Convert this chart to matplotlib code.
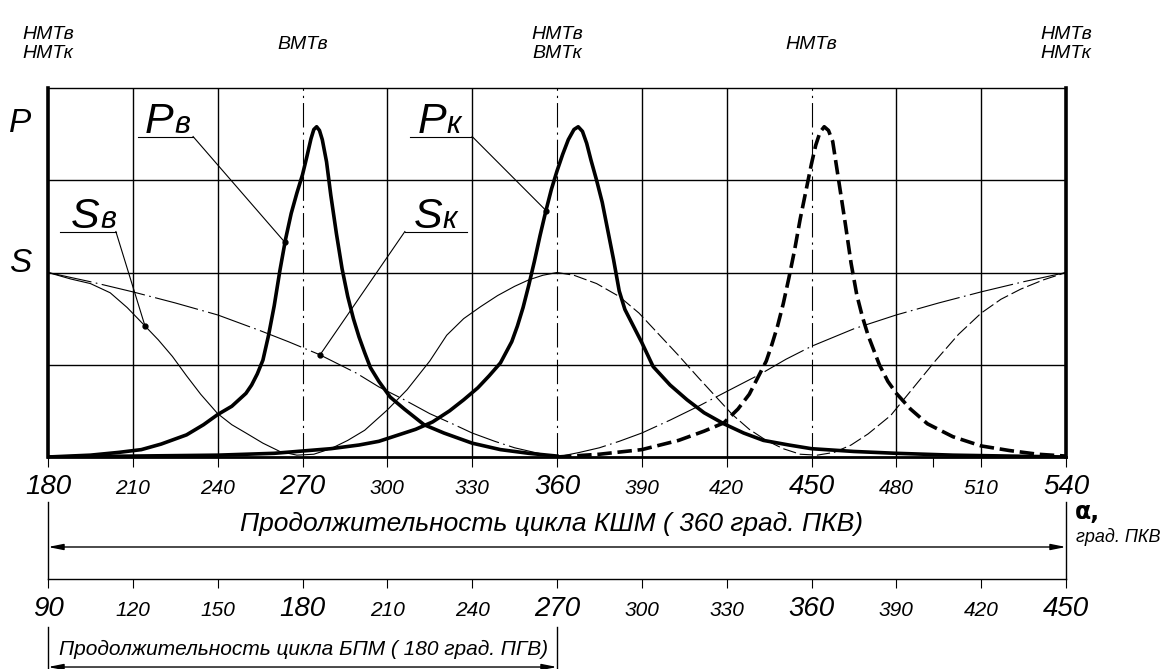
import numpy as np
import matplotlib
matplotlib.use("Agg")
import matplotlib.pyplot as plt

plt.rcParams["font.family"] = ["Liberation Sans", "DejaVu Sans"]
plt.rcParams["font.style"] = "italic"

# crank angle, deg
tick_alpha = [180, 210, 240, 270, 300, 330, 360, 390, 420, 450, 480, 510, 540]
grid_alpha = [210, 240, 300, 330, 390, 420, 480, 510]
dead_centres = [270, 360, 450]
top_alpha = [180, 270, 360, 450, 540]
top_labels = ["НМТв\nНМТк", "ВМТв", "НМТв\nВМТк", "НМТв", "НМТв\nНМТк"]
gear_ticks = [90, 120, 150, 180, 210, 240, 270, 300, 330, 360, 390, 420, 450]

# S_в, first stroke pair (solid)
alpha_sv1 = [180, 188, 195, 202, 208, 214, 219, 224, 229, 234, 240, 245, 250, 256, 262,
             268, 274, 280, 286, 292, 300, 307, 315, 321, 327, 333, 339, 345, 350, 355, 360]
sv1 = [2.00, 1.93, 1.88, 1.78, 1.62, 1.43, 1.27, 1.09, 0.88, 0.68, 0.47, 0.35, 0.26, 0.15, 0.06,
       0.02, 0.03, 0.09, 0.18, 0.29, 0.51, 0.73, 1.04, 1.32, 1.50, 1.63, 1.75, 1.85, 1.92, 1.97, 2.00]

# S_в, second stroke pair (dashed)
alpha_sv2 = [360, 366, 374, 382, 389, 396, 403, 410, 416, 422, 428, 434, 440, 446, 452,
             458, 464, 470, 478, 486, 494, 502, 510, 517, 524, 532, 540]
sv2 = [2.00, 1.97, 1.88, 1.74, 1.56, 1.33, 1.10, 0.86, 0.66, 0.46, 0.30, 0.18, 0.09, 0.03, 0.02,
       0.05, 0.13, 0.25, 0.45, 0.75, 1.05, 1.33, 1.56, 1.71, 1.82, 1.92, 2.00]

# S_к (dash-dot)
alpha_sk = [180, 195, 210, 225, 240, 255, 265, 276, 289, 297, 306, 315, 323, 330, 338, 345, 352, 360,
            368, 375, 382, 390, 400, 410, 420, 432, 441, 450, 465, 480, 495, 510, 525, 540]
sk = [2.00, 1.90, 1.79, 1.67, 1.54, 1.37, 1.25, 1.11, 0.91, 0.76, 0.62, 0.47, 0.36, 0.26, 0.17, 0.10, 0.05, 0.00,
      0.05, 0.10, 0.17, 0.26, 0.40, 0.55, 0.71, 0.90, 1.06, 1.20, 1.39, 1.54, 1.67, 1.79, 1.90, 2.00]

# P_в, first cycle (solid)
alpha_pv1 = [180, 195, 205, 213, 220, 229, 235, 240, 245, 250, 252, 254, 256, 258, 260, 262, 264, 266,
             268, 270, 271.5, 273, 274, 275, 276, 277, 278.5, 280, 282, 284, 286, 288, 290, 292, 294,
             297, 301, 306, 313, 320, 330, 340, 350, 360]
pv1 = [0.00, 0.02, 0.05, 0.08, 0.14, 0.24, 0.35, 0.46, 0.55, 0.69, 0.78, 0.90, 1.05, 1.32, 1.64, 2.02, 2.36, 2.64,
       2.86, 3.06, 3.25, 3.45, 3.55, 3.58, 3.54, 3.44, 3.20, 2.84, 2.42, 2.04, 1.74, 1.50, 1.30, 1.13, 0.97,
       0.82, 0.65, 0.52, 0.35, 0.26, 0.15, 0.08, 0.04, 0.01]

# P_в, second cycle (dashed)
alpha_pv2 = [360, 375, 390, 403, 412, 419, 424, 428, 430, 432, 434, 436, 438, 440, 442, 444, 446, 448,
             450, 451.5, 453, 454.5, 456, 457.5, 459, 460.5, 462, 464, 466, 468, 470, 472, 474, 477, 480,
             485, 491, 500, 510, 520, 530, 540]
pv2 = [0.00, 0.03, 0.08, 0.18, 0.28, 0.37, 0.52, 0.68, 0.80, 0.92, 1.04, 1.22, 1.42, 1.66, 1.94, 2.24, 2.58, 2.88,
       3.18, 3.38, 3.52, 3.58, 3.54, 3.42, 3.12, 2.82, 2.52, 2.10, 1.76, 1.52, 1.32, 1.16, 1.00, 0.82, 0.69,
       0.52, 0.36, 0.22, 0.12, 0.07, 0.03, 0.01]

# P_к (solid)
alpha_pk = [180, 210, 240, 260, 280, 290, 297, 304, 310, 316, 322, 327, 332, 336, 340, 344, 346, 348, 350,
            352, 354, 356, 358, 360, 362, 364, 366, 367.5, 369, 370.5, 372, 374, 376, 378, 380, 382, 384,
            386, 388, 390, 394, 400, 406, 412, 419, 426, 433, 442, 450, 465, 480, 500, 520, 540]
pk = [0.00, 0.01, 0.02, 0.04, 0.09, 0.13, 0.17, 0.24, 0.30, 0.38, 0.50, 0.62, 0.75, 0.88, 1.02, 1.25, 1.42, 1.62,
      1.86, 2.12, 2.40, 2.66, 2.90, 3.10, 3.28, 3.44, 3.55, 3.58, 3.53, 3.40, 3.22, 3.00, 2.76, 2.45, 2.14, 1.80,
      1.60, 1.48, 1.36, 1.24, 0.98, 0.78, 0.62, 0.48, 0.36, 0.26, 0.18, 0.13, 0.09, 0.06, 0.04, 0.02, 0.01, 0.00]

W, H = 1166, 669
fig = plt.figure(figsize=(W / 100, H / 100), dpi=100)
ax = fig.add_axes([48 / W, 1 - 457 / H, 1018 / W, 369 / H])
ax.set_xlim(180, 540)
ax.set_ylim(0, 4)

for a in grid_alpha:
    ax.axvline(a, color="k", lw=1.0, zorder=1)
for a in dead_centres:
    ax.axvline(a, color="k", lw=0.8, ls=(0, (22, 4.5, 2, 4.5)), zorder=1)
for v in (1, 2, 3):
    ax.axhline(v, color="k", lw=1.0, zorder=1)

ax.spines["top"].set_linewidth(1.0)
ax.spines["left"].set_linewidth(2.6)
ax.spines["right"].set_linewidth(2.6)
ax.spines["bottom"].set_linewidth(2.0)
ax.set_xticks(tick_alpha + [493])
ax.tick_params(axis="x", direction="out", length=7.2, width=0.8, labelbottom=False)
ax.set_yticks([])

thin = 0.8
thick = 2.6
ax.plot(alpha_sv1, sv1, color="k", lw=thin, zorder=3)
ax.plot(alpha_sv2, sv2, color="k", lw=thin, ls=(0, (12, 3.5)), zorder=3)
ax.plot(alpha_sk, sk, color="k", lw=thin, ls=(0, (40, 4, 1.5, 4)), zorder=3)
ax.plot(alpha_pv1, pv1, color="k", lw=thick, zorder=4, solid_joinstyle="round")
ax.plot(alpha_pk, pk, color="k", lw=thick, zorder=4, solid_joinstyle="round")
ax.plot(alpha_pv2, pv2, color="k", lw=thick, ls=(0, (4, 1.6)), zorder=4)

# curve captions with leader lines
captions = [
    # letter, index, letter x, index x, baseline, underline x0, x1, leader start, curve, target angle
    ("Р", "в", 214.3, 224.6, 3.51, 211.8, 231.3, 231.3, (alpha_pv1, pv1), 263.8),
    ("Р", "к", 310.8, 320.8, 3.51, 308.0, 330.0, 330.0, (alpha_pk, pk), 356.1),
    ("S", "в", 188.0, 198.4, 2.48, 184.2, 204.0, 204.0, (alpha_sv1, sv1), 214.3),
    ("S", "к", 309.3, 319.4, 2.48, 306.2, 328.2, 306.2, (alpha_sk, sk), 276.2),
]
for big, idx, xb, xi, yb, u0, u1, xf, (cx, cy), xt in captions:
    ax.text(xb, yb, big, fontsize=31, ha="left", va="baseline", zorder=5)
    ax.text(xi, yb, idx, fontsize=22, ha="left", va="baseline", zorder=5)
    yu = yb - 0.036
    yt = np.interp(xt, cx, cy)
    ax.plot([u0, u1], [yu, yu], color="k", lw=thin, zorder=5)
    ax.plot([xf, xt], [yu, yt], color="k", lw=thin, zorder=5)
    ax.plot([xt], [yt], "o", color="k", ms=3.5, zorder=6)

ax.text(-0.0275, 3.52, "P", transform=ax.get_yaxis_transform(), fontsize=24,
        ha="center", va="baseline")
ax.text(-0.0275, 2.0, "S", transform=ax.get_yaxis_transform(), fontsize=24,
        ha="center", va="baseline")

for a, lbl in zip(top_alpha, top_labels):
    ax.text(a, 1.119, lbl, transform=ax.get_xaxis_transform(), fontsize=14,
            ha="center", va="center", linespacing=1.2)

for a in tick_alpha:
    size = 20 if a % 90 == 0 else 15
    ax.text(a, -0.1003, str(a), transform=ax.get_xaxis_transform(), fontsize=size,
            ha="center", va="baseline")

# lower scale, gear shaft degrees
axb = fig.add_axes([48 / W, 1 - 579 / H, 1018 / W, 77 / H])
axb.set_xlim(90, 450)
axb.set_ylim(0, 1)
axb.patch.set_alpha(0)
axb.spines["top"].set_visible(False)
for s in ("left", "right", "bottom"):
    axb.spines[s].set_linewidth(1.0)
axb.set_xticks(gear_ticks)
axb.tick_params(axis="x", direction="out", length=6.5, width=0.8, labelbottom=False)
axb.set_yticks([])
for g in gear_ticks:
    size = 20 if g % 90 == 0 else 15
    axb.text(g, -0.48, str(g), transform=axb.get_xaxis_transform(), fontsize=size,
             ha="center", va="baseline")

arrow = dict(arrowstyle="<|-|>,head_length=0.9,head_width=0.18", color="k", lw=1.0,
             shrinkA=0, shrinkB=0)
axb.annotate("", xy=(90, 0.4156), xytext=(450, 0.4156),
             xycoords=("data", "axes fraction"), textcoords=("data", "axes fraction"),
             arrowprops=arrow, annotation_clip=False)
axb.text(267.9, 0.714, "Продолжительность цикла КШМ ( 360 град. ПКВ)",
         transform=axb.get_xaxis_transform(), fontsize=19, ha="center", va="center")
axb.text(453.2, 0.87, "α,", transform=axb.get_xaxis_transform(), fontsize=17,
         fontweight="bold", style="normal", family="DejaVu Sans", ha="left", va="center")
axb.text(453.6, 0.55, "град. ПКВ", transform=axb.get_xaxis_transform(), fontsize=13,
         ha="left", va="center", clip_on=False)

# dimension of the gear cycle
for g in (90, 270):
    axb.plot([g, g], [-0.623, -1.2], color="k", lw=1.0, transform=axb.get_xaxis_transform(),
             clip_on=False)
axb.annotate("", xy=(90, -1.143), xytext=(270, -1.143),
             xycoords=("data", "axes fraction"), textcoords=("data", "axes fraction"),
             arrowprops=arrow, annotation_clip=False)
axb.text(180.2, -0.909, "Продолжительность цикла БПМ ( 180 град. ПГВ)",
         transform=axb.get_xaxis_transform(), fontsize=15, ha="center", va="center")

fig.savefig("out.png", dpi=100)
